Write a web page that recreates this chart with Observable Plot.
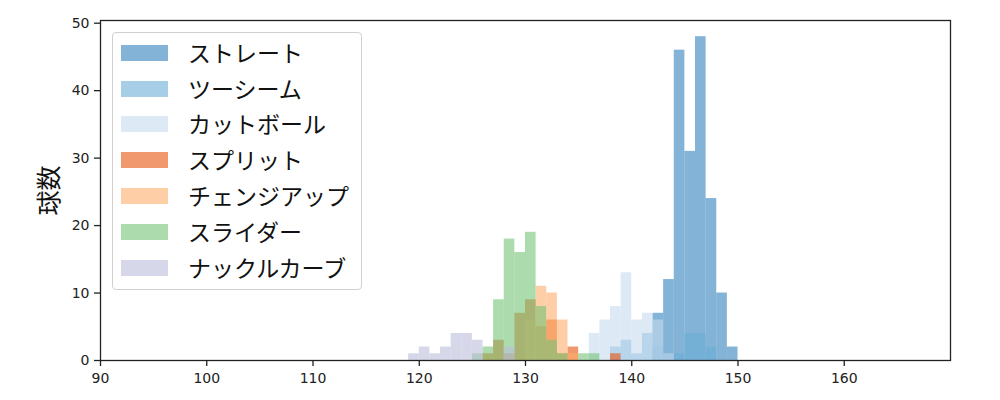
<!DOCTYPE html>
<html>
<head>
<meta charset="utf-8">
<script src="https://cdn.jsdelivr.net/npm/d3@7"></script>
<script src="https://cdn.jsdelivr.net/npm/@observablehq/plot@0.6"></script>
<style>
  body { margin: 0; background: #fff; }
  #wrap { position: relative; width: 1000px; height: 400px; font-family: "DejaVu Sans", "Noto Sans CJK JP", sans-serif; }
  #legend { position: absolute; left: 112px; top: 32px; width: 250px; height: 258px; border: 1px solid #d0d0d0; border-radius: 4px; background: rgba(255,255,255,0.8); box-sizing: border-box; }
  .item { position: absolute; left: 0; height: 16px; }
  .sw { position: absolute; left: 8px; top: 0; width: 47px; height: 16px; }
  .lb { position: absolute; left: 75px; top: -8px; font-family: "Noto Sans CJK JP", sans-serif; font-size: 23px; line-height: 30px; white-space: nowrap; color: #111; }
</style>
</head>
<body>
<div id="wrap"></div>
<script>
// Pitch types (draw order = legend order)
const pitchTypes = ["ストレート", "ツーシーム", "カットボール", "スプリット", "チェンジアップ", "スライダー", "ナックルカーブ"];
const pitchColors = ["#3182bd", "#6baed6", "#c6dbef", "#e6550d", "#fdae6b", "#74c476", "#bcbddc"];

// First bin (km/h) of each series; bins are 1 km/h wide
const binStarts = [142, 138, 136, 126, 130, 125, 119];

// Counts per 1 km/h bin, starting at binStarts
const straightCounts   = [7, 12, 46, 31, 48, 24, 10, 2];
const twoSeamCounts    = [2, 3, 1, 4, 2, 1, 1, 4, 4, 2];
const cutterCounts     = [4, 6, 8, 13, 6, 7, 6, 1];
const splitCounts      = [1, 3, 1, 7, 9, 5, 6, 1, 2, 0, 0, 0, 1];
const changeupCounts   = [6, 11, 10, 6, 1];
const sliderCounts     = [1, 2, 9, 18, 16, 19, 8, 3, 1, 0, 1, 1];
const knuckleCurveCounts = [1, 2, 1, 2, 4, 4, 3, 0, 0, 2];

const allCounts = [straightCounts, twoSeamCounts, cutterCounts, splitCounts, changeupCounts, sliderCounts, knuckleCurveCounts];

const xTicks = [90, 100, 110, 120, 130, 140, 150, 160];
const yTicks = [0, 10, 20, 30, 40, 50];
const yLabel = "球数";

// Build table
const rows = [];
pitchTypes.forEach((t, i) => {
  allCounts[i].forEach((c, j) => {
    if (c > 0) rows.push({type: t, x1: binStarts[i] + j, x2: binStarts[i] + j + 1, count: c});
  });
});

const marks = pitchTypes.map((t, i) =>
  Plot.rectY(rows.filter(r => r.type === t), {
    x1: "x1", x2: "x2", y1: 0, y2: "count",
    fill: pitchColors[i], fillOpacity: 0.6, inset: 0
  })
);

const chart = Plot.plot({
  width: 1000,
  height: 400,
  marginLeft: 100,
  marginRight: 50,
  marginTop: 20,
  marginBottom: 40,
  style: {fontSize: "14px", fontFamily: "DejaVu Sans, Noto Sans CJK JP, sans-serif", color: "#222", background: "#fff"},
  x: {domain: [90, 170]},
  y: {domain: [0, 50.4]},
  marks: [
    ...marks,
    Plot.frame({stroke: "#222", strokeWidth: 1.3}),
    Plot.axisX({ticks: xTicks, tickSize: 6, tickPadding: 7, label: null, tickFormat: d => String(d), stroke: "#222", strokeWidth: 1.3}),
    Plot.axisY({ticks: yTicks, tickSize: 6, tickPadding: 5, label: null, tickFormat: d => String(d), stroke: "#222", strokeWidth: 1.3}),
    Plot.text([yLabel], {frameAnchor: "left", dx: -51, rotate: -90, textAnchor: "middle", fontSize: 25, fill: "#111", fontFamily: "Noto Sans CJK JP, sans-serif"})
  ]
});

const wrap = document.getElementById("wrap");
wrap.appendChild(chart);

// Legend
const legend = document.createElement("div");
legend.id = "legend";
const rowCenters = [51.7, 87.7, 123.3, 159.3, 195, 231, 266.7];
pitchTypes.forEach((t, i) => {
  const item = document.createElement("div");
  item.className = "item";
  item.style.top = (rowCenters[i] - 32 - 8) + "px";
  const sw = document.createElement("div");
  sw.className = "sw";
  sw.style.background = pitchColors[i];
  sw.style.opacity = 0.6;
  const lb = document.createElement("div");
  lb.className = "lb";
  lb.textContent = t;
  item.appendChild(sw);
  item.appendChild(lb);
  legend.appendChild(item);
});
wrap.appendChild(legend);
</script>
</body>
</html>
